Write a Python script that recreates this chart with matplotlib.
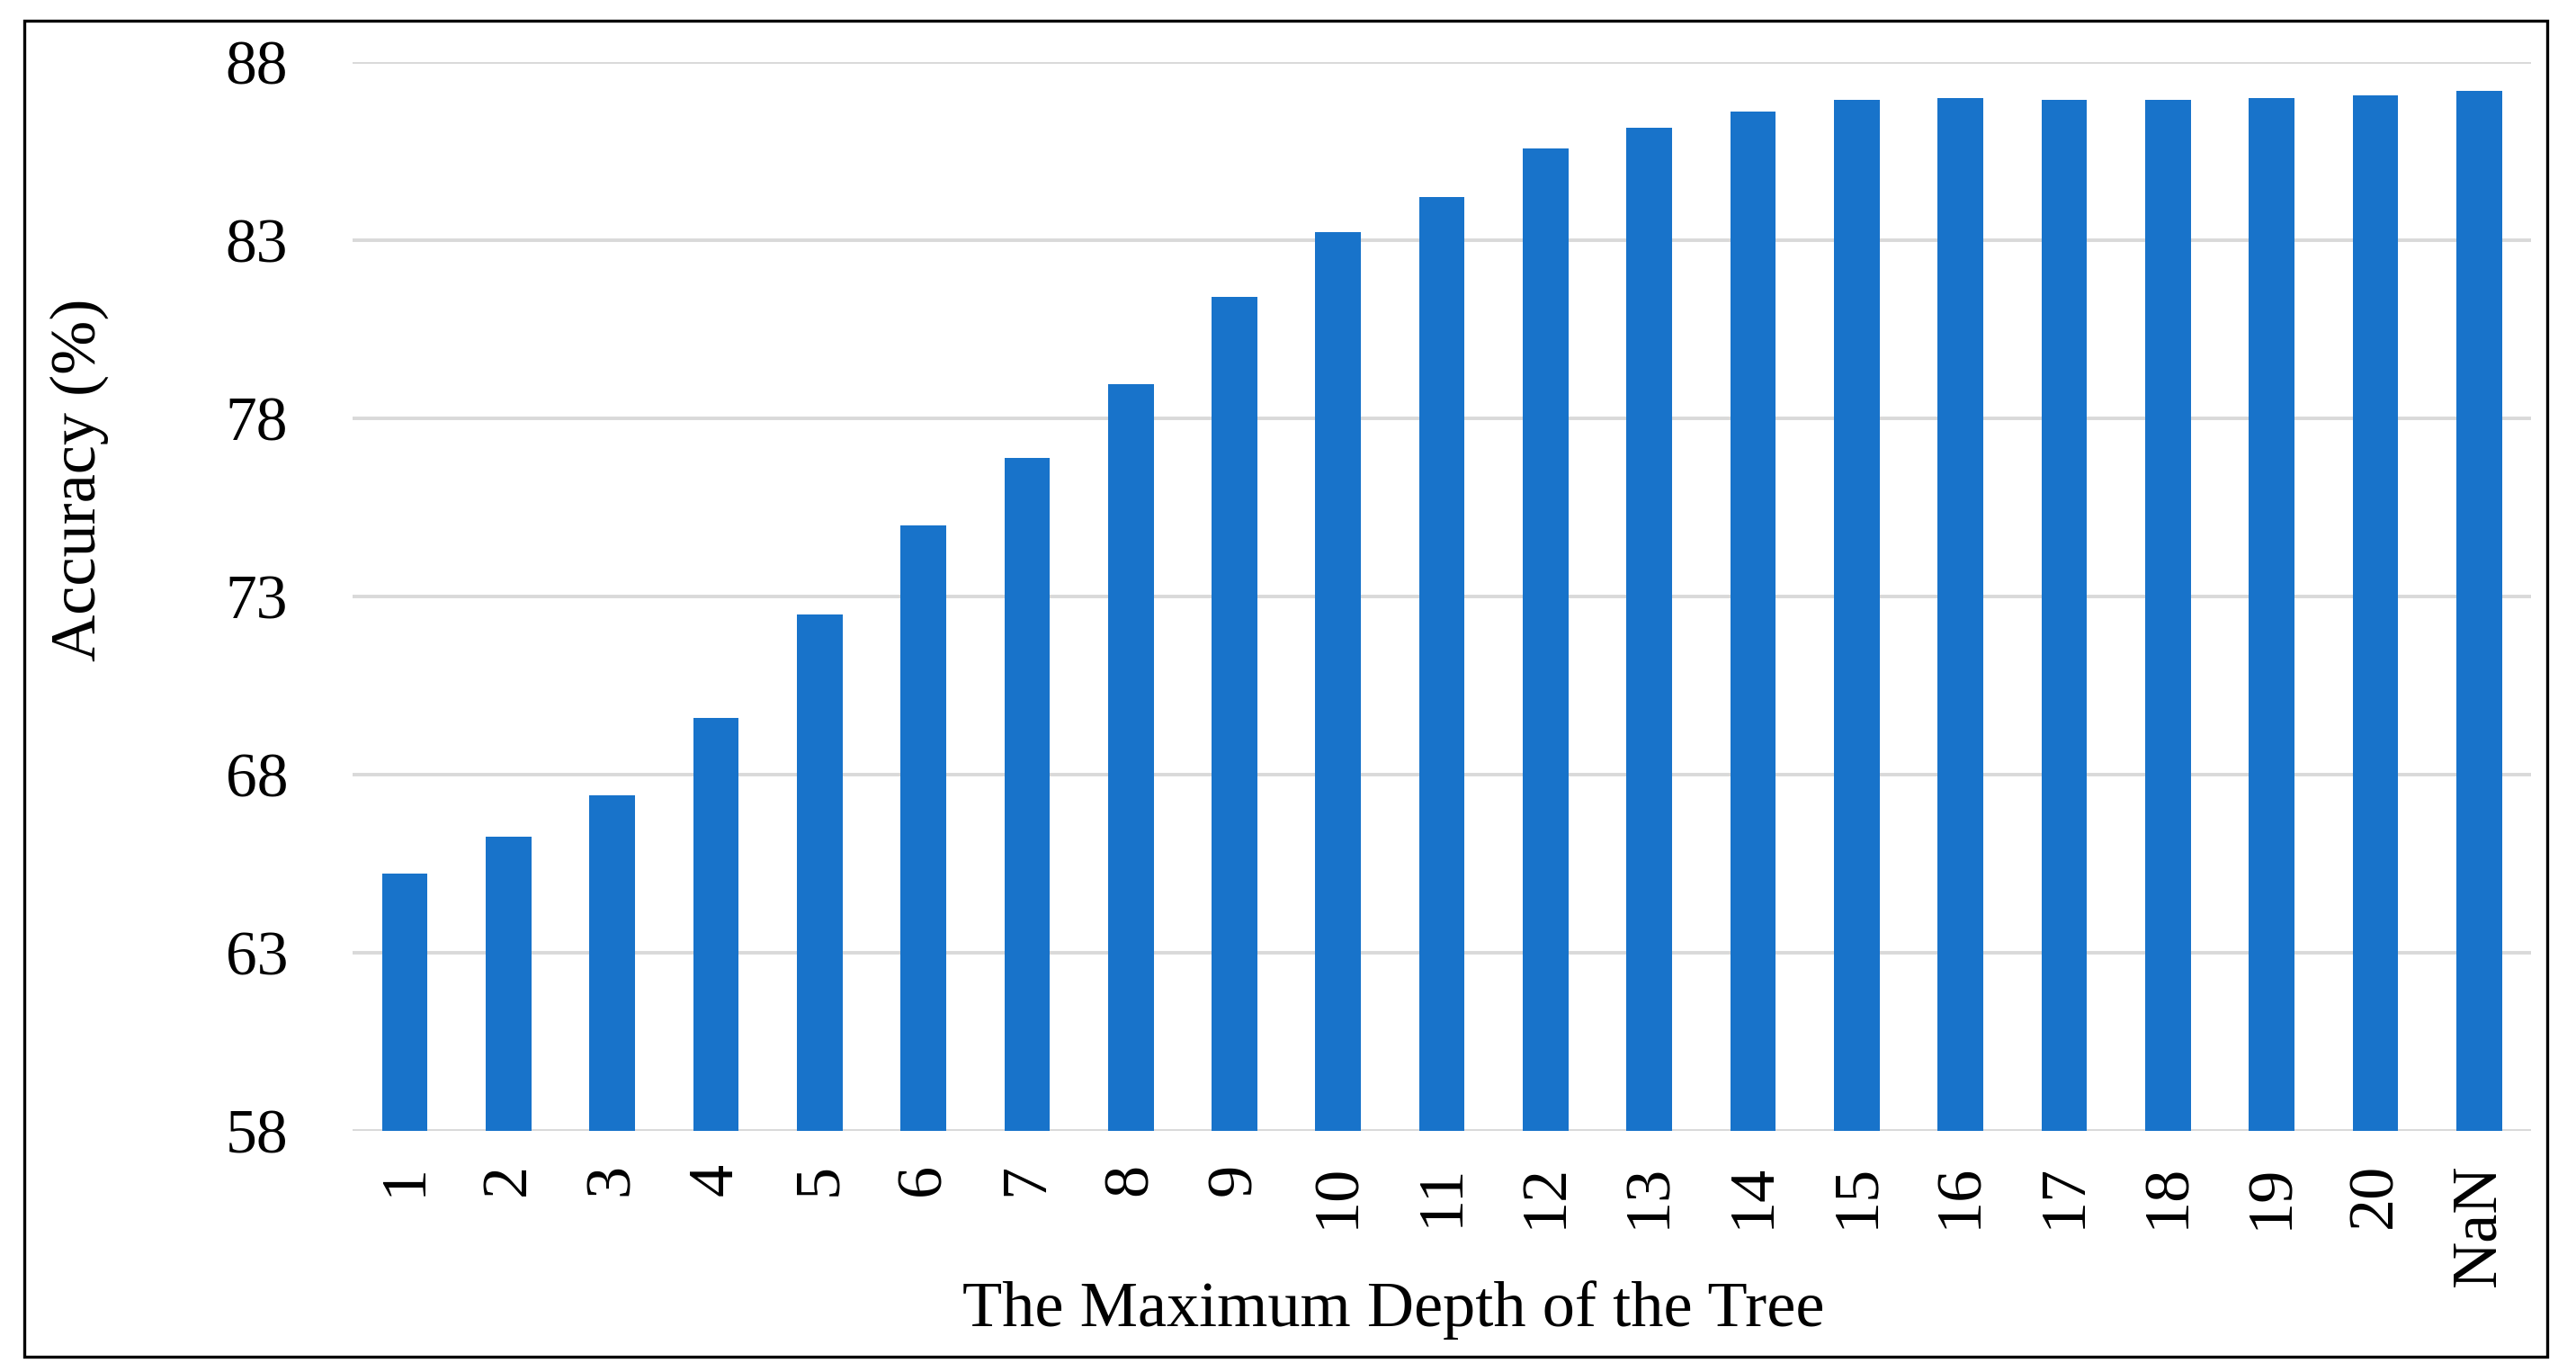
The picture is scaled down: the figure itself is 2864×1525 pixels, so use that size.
import matplotlib
matplotlib.use('Agg')
import matplotlib.pyplot as plt
from matplotlib.patches import Rectangle

# data
depths = ['1', '2', '3', '4', '5', '6', '7', '8', '9', '10', '11', '12', '13', '14',
          '15', '16', '17', '18', '19', '20', 'NaN']
accuracy = [65.22, 66.26, 67.43, 69.59, 72.49, 74.99, 76.88, 78.95, 81.40, 83.23,
            84.21, 85.58, 86.15, 86.61, 86.93, 86.98, 86.93, 86.93, 86.98, 87.07, 87.18]
y_ticks = [58, 63, 68, 73, 78, 83, 88]

BLUE = '#1873CA'
GRID = '#d9d9d9'

plt.rcParams['font.family'] = ['Liberation Serif', 'DejaVu Serif']

fig = plt.figure(figsize=(14.32, 7.625), dpi=200)
ax = fig.add_axes([0.137, 0.1757, 0.8455, 0.7791])

x = list(range(len(depths)))
ax.bar(x, accuracy, width=0.44, color=BLUE, zorder=3)

ax.set_xlim(-0.5, len(depths) - 0.5)
ax.set_ylim(58, 88)
ax.set_yticks(y_ticks)
ax.set_yticklabels([str(t) for t in y_ticks], fontsize=25)
ax.set_xticks(x)
ax.set_xticklabels(depths, rotation=90, fontsize=26, va='top')
ax.tick_params(axis='both', length=0)
ax.tick_params(axis='y', pad=26)
ax.tick_params(axis='x', pad=13)

ax.grid(axis='y', color=GRID, linewidth=1.4, zorder=0)
for s in ax.spines.values():
    s.set_visible(False)

fig.text(0.0307, 0.65, 'Accuracy (%)', rotation=90, fontsize=26,
         ha='center', va='center')
fig.text(0.541, 0.045, 'The Maximum Depth of the Tree', fontsize=26,
         ha='center', va='center')

# outer frame
fig.patches.append(Rectangle((0.0095, 0.011), 0.9795, 0.974, transform=fig.transFigure,
                             fill=False, edgecolor='black', linewidth=1.2))

fig.savefig('out.png', dpi=200)
